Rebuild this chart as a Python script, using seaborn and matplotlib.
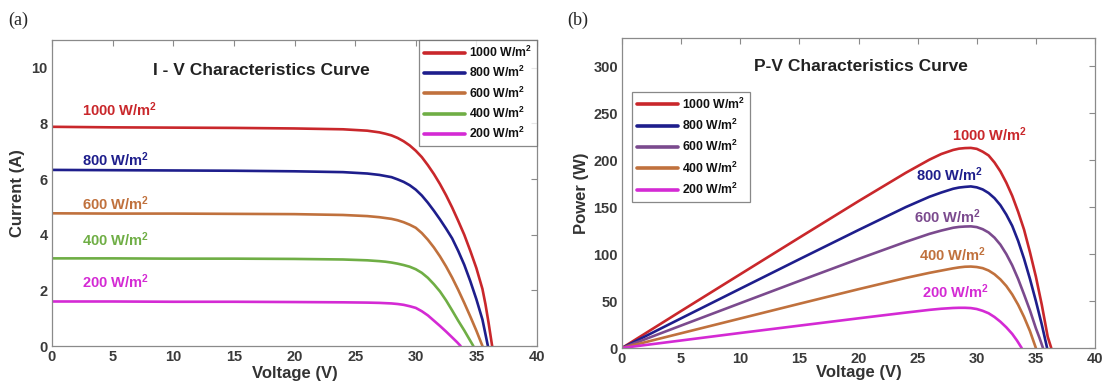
import numpy as np
import pandas as pd
import matplotlib
matplotlib.use("Agg")
import matplotlib.pyplot as plt
import seaborn as sns

# ---------------- data ----------------
levels = ["1000", "800", "600", "400", "200"]

# I-V curves (Voltage V, Current A)
iv_v_1000 = [0, 5, 10, 15, 20, 24, 26, 27, 27.5, 28, 28.5, 29, 29.5, 30, 30.5, 31, 31.5, 32, 32.5,
             33, 33.5, 34, 34.5, 35, 35.5, 35.75, 36, 36.3]
iv_i_1000 = [7.88, 7.86, 7.85, 7.84, 7.82, 7.79, 7.74, 7.68, 7.63, 7.57, 7.48, 7.36, 7.21, 7.02, 6.79,
             6.50, 6.18, 5.82, 5.42, 4.98, 4.50, 4.00, 3.42, 2.80, 2.05, 1.50, 0.85, 0]
iv_v_800 = [0, 5, 10, 15, 20, 24, 26, 27, 27.5, 28, 28.5, 29, 29.5, 30, 30.5, 31, 31.5, 32, 32.5,
            33, 33.5, 34, 34.5, 35, 35.5, 35.95]
iv_i_800 = [6.33, 6.32, 6.31, 6.30, 6.28, 6.25, 6.20, 6.15, 6.11, 6.07, 5.99, 5.90, 5.78, 5.62, 5.41,
            5.15, 4.86, 4.55, 4.22, 3.87, 3.42, 2.92, 2.33, 1.68, 0.95, 0]
iv_v_600 = [0, 5, 10, 15, 20, 24, 26, 27, 27.5, 28, 28.5, 29, 29.5, 30, 30.5, 31, 31.5, 32, 32.5,
            33, 33.5, 34, 34.5, 35, 35.5]
iv_i_600 = [4.77, 4.76, 4.76, 4.75, 4.74, 4.71, 4.67, 4.63, 4.60, 4.57, 4.52, 4.45, 4.36, 4.25, 4.06,
            3.82, 3.54, 3.22, 2.86, 2.46, 2.02, 1.55, 1.06, 0.55, 0]
iv_v_400 = [0, 5, 10, 15, 20, 24, 26, 27, 27.5, 28, 28.5, 29, 29.5, 30, 30.5, 31, 31.5, 32, 32.5,
            33, 33.5, 34, 34.4, 34.75]
iv_i_400 = [3.15, 3.15, 3.14, 3.14, 3.13, 3.11, 3.08, 3.05, 3.03, 3.00, 2.96, 2.91, 2.85, 2.76, 2.63,
            2.45, 2.22, 1.96, 1.64, 1.28, 0.91, 0.56, 0.26, 0]
iv_v_200 = [0, 5, 10, 15, 20, 24, 26, 27, 27.5, 28, 28.5, 29, 29.5, 30, 30.5, 31, 31.5, 32, 32.5,
            33, 33.4, 33.7]
iv_i_200 = [1.60, 1.60, 1.59, 1.59, 1.58, 1.57, 1.56, 1.55, 1.54, 1.53, 1.51, 1.48, 1.43, 1.37, 1.25,
            1.10, 0.91, 0.72, 0.52, 0.31, 0.14, 0]

# P-V curves (Voltage V, Power W)
pv_v_1000 = [0, 5, 10, 15, 20, 24, 26, 27, 28, 28.5, 29, 29.5, 30, 30.5, 31, 31.5, 32, 32.5, 33,
             33.5, 34, 34.5, 35, 35.5, 36, 36.3]
pv_p_1000 = [0, 39.4, 78.5, 117.5, 156.3, 186.5, 200.5, 206.5, 210.8, 212.2, 212.8, 213, 212, 209,
             205, 197.5, 188, 176, 162, 145, 126, 102, 76, 46, 12, 0]
pv_v_800 = [0, 5, 10, 15, 20, 24, 26, 27, 28, 28.5, 29, 29.5, 30, 30.5, 31, 31.5, 32, 32.5, 33,
            33.5, 34, 34.5, 35, 35.5, 35.95]
pv_p_800 = [0, 31.6, 63.1, 94.5, 125.6, 150, 161, 165.5, 169.5, 170.8, 171.5, 172, 171, 168.8, 165,
            159.5, 152, 142, 130, 114, 95, 73.5, 50, 25, 0]
pv_v_600 = [0, 5, 10, 15, 20, 24, 26, 27, 28, 28.5, 29, 29.5, 30, 30.5, 31, 31.5, 32, 32.5, 33,
            33.5, 34, 34.5, 35, 35.3, 35.6]
pv_p_600 = [0, 23.9, 47.7, 71.4, 94.8, 113, 121.5, 125, 128, 128.9, 129.3, 129.5, 128.7, 126.5, 123,
            117.5, 110, 100, 88, 73.5, 57, 40, 21, 11, 0]
pv_v_400 = [0, 5, 10, 15, 20, 24, 26, 27, 28, 28.5, 29, 29.5, 30, 30.5, 31, 31.5, 32, 32.5, 33,
            33.5, 34, 34.5, 35]
pv_p_400 = [0, 15.7, 31.4, 47.1, 62.6, 74.6, 80, 82.4, 84.8, 85.8, 86.5, 86.7, 86.2, 85, 82.5, 78.5,
            73, 66, 57, 46, 33, 18, 0]
pv_v_200 = [0, 5, 10, 15, 20, 24, 26, 27, 28, 28.5, 29, 29.5, 30, 30.5, 31, 31.5, 32, 32.5, 33,
            33.4, 33.8]
pv_p_200 = [0, 8, 16, 23.8, 31.6, 37.7, 40.6, 41.8, 42.6, 42.8, 42.8, 42.5, 41.5, 39.6, 37, 33, 28,
            22, 15, 8, 0]

legend_labels = [f"{g} W/m$^2$" for g in levels]

# ---------------- style ----------------
sns.set_style("white")
plt.rcParams["font.family"] = ["Liberation Sans", "DejaVu Sans"]
plt.rcParams["font.weight"] = "bold"
plt.rcParams["mathtext.fontset"] = "custom"
plt.rcParams["mathtext.rm"] = "Liberation Sans:bold"
plt.rcParams["mathtext.bf"] = "Liberation Sans:bold"
plt.rcParams["mathtext.default"] = "bf"

iv_colors = ["#c9272b", "#1e1e8c", "#c0713d", "#6fae45", "#d42ad4"]
pv_colors = ["#c9272b", "#1e1e8c", "#7b4a8e", "#c0713d", "#d42ad4"]

iv_frames = []
for g, v, i in zip(levels, [iv_v_1000, iv_v_800, iv_v_600, iv_v_400, iv_v_200],
                   [iv_i_1000, iv_i_800, iv_i_600, iv_i_400, iv_i_200]):
    iv_frames.append(pd.DataFrame({"V": v, "I": i, "G": g}))
iv_df = pd.concat(iv_frames, ignore_index=True)

pv_frames = []
for g, v, p in zip(levels, [pv_v_1000, pv_v_800, pv_v_600, pv_v_400, pv_v_200],
                   [pv_p_1000, pv_p_800, pv_p_600, pv_p_400, pv_p_200]):
    pv_frames.append(pd.DataFrame({"V": v, "P": p, "G": g}))
pv_df = pd.concat(pv_frames, ignore_index=True)

W, H = 1105, 391
fig = plt.figure(figsize=(W / 100, H / 100), dpi=100)
ax1 = fig.add_axes([52 / W, 1 - 346 / H, (537 - 52) / W, (346 - 40) / H])
ax2 = fig.add_axes([622 / W, 1 - 348 / H, (1095 - 622) / W, (348 - 38) / H])

sns.lineplot(data=iv_df, x="V", y="I", hue="G", hue_order=levels, palette=iv_colors,
             sort=False, estimator=None, linewidth=1.9, ax=ax1)
sns.lineplot(data=pv_df, x="V", y="P", hue="G", hue_order=levels, palette=pv_colors,
             sort=False, estimator=None, linewidth=1.9, ax=ax2)

tick_color = "#3a3a3a"
ax1.set_ylim(0, 11)
ax1.set_yticks(np.arange(0, 11, 2))
ax2.set_ylim(0, 330)
ax2.set_yticks(np.arange(0, 301, 50))
for ax in (ax1, ax2):
    ax.set_xlim(0, 40)
    ax.set_xticks(np.arange(0, 41, 5))
    ax.tick_params(direction="in", length=4, width=0.8, color="#8a8a8a",
                   top=True, right=True, labelsize=10.5, labelcolor=tick_color, pad=3)
    for lab in ax.get_xticklabels() + ax.get_yticklabels():
        lab.set_fontweight("bold")
    for s in ax.spines.values():
        s.set_color("#8a8a8a")
        s.set_linewidth(0.9)

ax1.set_xlabel("Voltage (V)", fontsize=12, fontweight="bold", color="#333333", labelpad=1)
ax1.set_ylabel("Current (A)", fontsize=12, fontweight="bold", color="#333333", labelpad=5)
ax2.set_xlabel("Voltage (V)", fontsize=12, fontweight="bold", color="#333333", labelpad=-1)
ax2.set_ylabel("Power (W)", fontsize=12, fontweight="bold", color="#333333", labelpad=3)

ax1.text(17.3, 9.9, "I - V Characteristics Curve", fontsize=12.5, fontweight="bold",
         color="#222222", ha="center", va="center")
ax2.text(20.2, 300, "P-V Characteristics Curve", fontsize=12.5, fontweight="bold",
         color="#222222", ha="center", va="center")

# curve labels
iv_lab_y = [8.5, 6.7, 5.13, 3.82, 2.3]
for lab, y, c in zip(legend_labels, iv_lab_y, iv_colors):
    ax1.text(2.5, y, lab, fontsize=10.5, fontweight="bold", color=c, ha="left", va="center")
pv_lab_pos = [(31.1, 227), (27.7, 185), (27.5, 140), (27.9, 99), (28.2, 60)]
for lab, (x, y), c in zip(legend_labels, pv_lab_pos, pv_colors):
    ax2.text(x, y, lab, fontsize=10.5, fontweight="bold", color=c, ha="center", va="center")

# legends
for ax, loc, bbox, ls in ((ax1, "upper right", (1.0, 1.0), 0.42),
                          (ax2, "upper left", (0.021, 0.827), 0.5)):
    handles, _ = ax.get_legend_handles_labels()
    leg = ax.legend(handles, legend_labels, loc=loc, bbox_to_anchor=bbox, borderaxespad=0,
                    fontsize=8.8, frameon=True, fancybox=False, handlelength=3.4,
                    handletextpad=0.3, labelspacing=ls, borderpad=0.4)
    leg.get_frame().set_edgecolor("#6a6a6a")
    leg.get_frame().set_linewidth(0.9)
    for line in leg.get_lines():
        line.set_linewidth(2.6)
    for t in leg.get_texts():
        t.set_fontweight("bold")
        t.set_color("#111111")

fig.text(8 / W, 1 - 20 / H, "(a)", fontsize=13, family="Liberation Serif",
         fontweight="normal", ha="left", va="center")
fig.text(567 / W, 1 - 20 / H, "(b)", fontsize=13, family="Liberation Serif",
         fontweight="normal", ha="left", va="center")

fig.savefig("out.png", dpi=100)
